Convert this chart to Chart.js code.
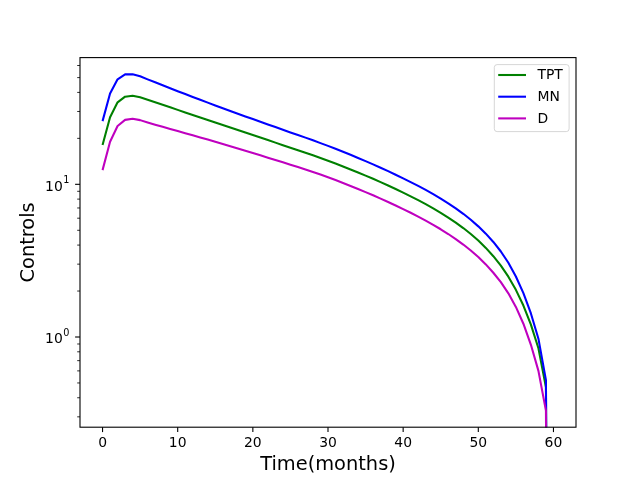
<!DOCTYPE html>
<html>
<head>
<meta charset="utf-8">
<script src="https://cdn.jsdelivr.net/npm/chart.js@4.4.1/dist/chart.umd.min.js"></script>
<style>
  html, body { margin: 0; padding: 0; background: #fff; }
</style>
</head>
<body>
<canvas id="c" width="640" height="480"></canvas>
<script>
var months = [0, 1, 2, 3, 4, 5, 6, 7, 8, 9, 10, 11, 12, 13, 14, 15, 16, 17, 18, 19,
  20, 21, 22, 23, 24, 25, 26, 27, 28, 29, 30, 31, 32, 33, 34, 35, 36, 37, 38, 39,
  40, 41, 42, 43, 44, 45, 46, 47, 48, 49, 50, 51, 52, 53, 54, 55, 56, 57, 58, 59, 60];

var tpt = [18.07, 27.48, 34.43, 37.50, 38.02, 37.15, 35.77, 34.43, 33.15, 31.92, 30.73, 29.58,
  28.48, 27.42, 26.40, 25.41, 24.47, 23.55, 22.68, 21.83, 21.02, 20.23, 19.48, 18.75, 18.05,
  17.38, 16.73, 16.11, 15.50, 14.88, 14.27, 13.68, 13.09, 12.52, 11.96, 11.40, 10.87, 10.34,
  9.824, 9.320, 8.827, 8.344, 7.874, 7.413, 6.959, 6.509, 6.059, 5.617, 5.171, 4.727, 4.280,
  3.833, 3.381, 2.931, 2.483, 2.037, 1.607, 1.205, 0.8433, 0.4677, 0];

var mn = [25.94, 39.36, 48.75, 52.48, 52.60, 50.99, 48.70, 46.56, 44.52, 42.59, 40.74, 38.99,
  37.34, 35.78, 34.28, 32.87, 31.52, 30.23, 29.01, 27.85, 26.74, 25.68, 24.66, 23.70, 22.77,
  21.88, 21.03, 20.22, 19.44, 18.62, 17.85, 17.08, 16.33, 15.60, 14.89, 14.19, 13.50, 12.84,
  12.20, 11.56, 10.94, 10.34, 9.761, 9.191, 8.628, 8.068, 7.512, 6.964, 6.410, 5.859, 5.306,
  4.752, 4.192, 3.631, 3.062, 2.489, 1.936, 1.426, 0.975, 0.522, 0];

var dd = [12.39, 19.01, 24.10, 26.42, 26.88, 26.33, 25.44, 24.60, 23.82, 23.07, 22.34, 21.63,
  20.94, 20.28, 19.63, 18.99, 18.37, 17.77, 17.17, 16.60, 16.03, 15.48, 14.95, 14.43, 13.93,
  13.45, 12.97, 12.51, 12.06, 11.59, 11.13, 10.67, 10.21, 9.761, 9.322, 8.892, 8.472, 8.063,
  7.660, 7.267, 6.883, 6.508, 6.141, 5.781, 5.428, 5.077, 4.727, 4.381, 4.032, 3.686, 3.338,
  2.989, 2.636, 2.286, 1.932, 1.574, 1.222, 0.8892, 0.5998, 0.3296, 0];

var xTicks = [0, 10, 20, 30, 40, 50, 60];
var yMajor = [1, 10];
var yMajorExp = ['0', '1'];
var yMinor = [0.3, 0.4, 0.5, 0.6, 0.7, 0.8, 0.9, 2, 3, 4, 5, 6, 7, 8, 9, 20, 30, 40, 50, 60];

var FONT = '"DejaVu Sans", sans-serif';

// log axis: a zero value is clipped far below, like matplotlib does
function points(ys) {
  return months.map(function (m, i) {
    return { x: m, y: ys[i] > 0 ? ys[i] : 1e-9 };
  });
}

var series = [
  { label: 'TPT', values: tpt, color: '#008000', order: 3 },
  { label: 'MN', values: mn, color: '#0000ff', order: 2 },
  { label: 'D', values: dd, color: '#bf00bf', order: 1 }
];

var mplAxes = {
  id: 'mplAxes',
  afterDraw: function (chart) {
    var ctx = chart.ctx, a = chart.chartArea;
    var xs = chart.scales.x, ys = chart.scales.y;
    ctx.save();
    ctx.strokeStyle = '#000';
    ctx.fillStyle = '#000';

    // frame
    ctx.lineWidth = 1.1;
    ctx.strokeRect(a.left, a.top, a.right - a.left, a.bottom - a.top);

    // x ticks + labels
    ctx.font = '13.9px ' + FONT;
    ctx.textAlign = 'center';
    ctx.textBaseline = 'middle';
    xTicks.forEach(function (v) {
      var px = xs.getPixelForValue(v);
      ctx.beginPath();
      ctx.moveTo(px, a.bottom);
      ctx.lineTo(px, a.bottom + 4.9);
      ctx.stroke();
      ctx.fillText(String(v), px, a.bottom + 16.3);
    });

    // y minor ticks
    ctx.lineWidth = 0.83;
    yMinor.forEach(function (v) {
      var py = ys.getPixelForValue(v);
      ctx.beginPath();
      ctx.moveTo(a.left, py);
      ctx.lineTo(a.left - 2.8, py);
      ctx.stroke();
    });

    // y major ticks + 10^n labels
    ctx.lineWidth = 1.1;
    ctx.textAlign = 'right';
    yMajor.forEach(function (v, i) {
      var py = ys.getPixelForValue(v);
      ctx.beginPath();
      ctx.moveTo(a.left, py);
      ctx.lineTo(a.left - 4.9, py);
      ctx.stroke();
      ctx.font = '9.7px ' + FONT;
      var ew = ctx.measureText(yMajorExp[i]).width;
      ctx.fillText(yMajorExp[i], 69.5, py - 3.8);
      ctx.font = '13.9px ' + FONT;
      ctx.fillText('10', 69.5 - ew - 0.6, py + 2.6);
    });

    // axis titles
    ctx.font = '19.4px ' + FONT;
    ctx.textAlign = 'center';
    ctx.fillText('Time(months)', (a.left + a.right) / 2, 465);
    ctx.save();
    ctx.translate(29, (a.top + a.bottom) / 2);
    ctx.rotate(-Math.PI / 2);
    ctx.fillText('Controls', 0, 0);
    ctx.restore();

    // legend, upper right inside the axes
    var lx = 494.3, ly = 64.6, lw = 74.8, lh = 67, r = 2.8;
    ctx.beginPath();
    ctx.moveTo(lx + r, ly);
    ctx.arcTo(lx + lw, ly, lx + lw, ly + lh, r);
    ctx.arcTo(lx + lw, ly + lh, lx, ly + lh, r);
    ctx.arcTo(lx, ly + lh, lx, ly, r);
    ctx.arcTo(lx, ly, lx + lw, ly, r);
    ctx.closePath();
    ctx.fillStyle = 'rgba(255,255,255,0.8)';
    ctx.fill();
    ctx.lineWidth = 1;
    ctx.strokeStyle = 'rgba(204,204,204,0.8)';
    ctx.stroke();

    ctx.font = '13.9px ' + FONT;
    ctx.textAlign = 'left';
    ctx.fillStyle = '#000';
    series.forEach(function (s, i) {
      var y = 75 + i * 21.7;
      ctx.strokeStyle = s.color;
      ctx.lineWidth = 2.08;
      ctx.beginPath();
      ctx.moveTo(498.2, y);
      ctx.lineTo(526, y);
      ctx.stroke();
      ctx.fillText(s.label, 537.5, y + 0.5);
    });
    ctx.restore();
  }
};

new Chart(document.getElementById('c'), {
  type: 'line',
  data: {
    datasets: series.map(function (s) {
      return {
        label: s.label,
        data: points(s.values),
        borderColor: s.color,
        backgroundColor: s.color,
        order: s.order
      };
    })
  },
  options: {
    responsive: false,
    animation: false,
    devicePixelRatio: 1,
    layout: { padding: { top: 57.6, right: 64, left: 0, bottom: 0 } },
    elements: {
      line: { borderWidth: 2.08, tension: 0, borderJoinStyle: 'round' },
      point: { radius: 0, hoverRadius: 0 }
    },
    plugins: { legend: { display: false }, tooltip: { enabled: false } },
    events: [],
    scales: {
      x: {
        type: 'linear', min: -3, max: 63,
        ticks: { display: false }, grid: { display: false }, border: { display: false },
        afterFit: function (s) { s.height = 52.8; }
      },
      y: {
        type: 'logarithmic', min: 0.2566, max: 67.6,
        ticks: { display: false }, grid: { display: false }, border: { display: false },
        afterFit: function (s) { s.width = 80; }
      }
    }
  },
  plugins: [mplAxes]
});
</script>
</body>
</html>
